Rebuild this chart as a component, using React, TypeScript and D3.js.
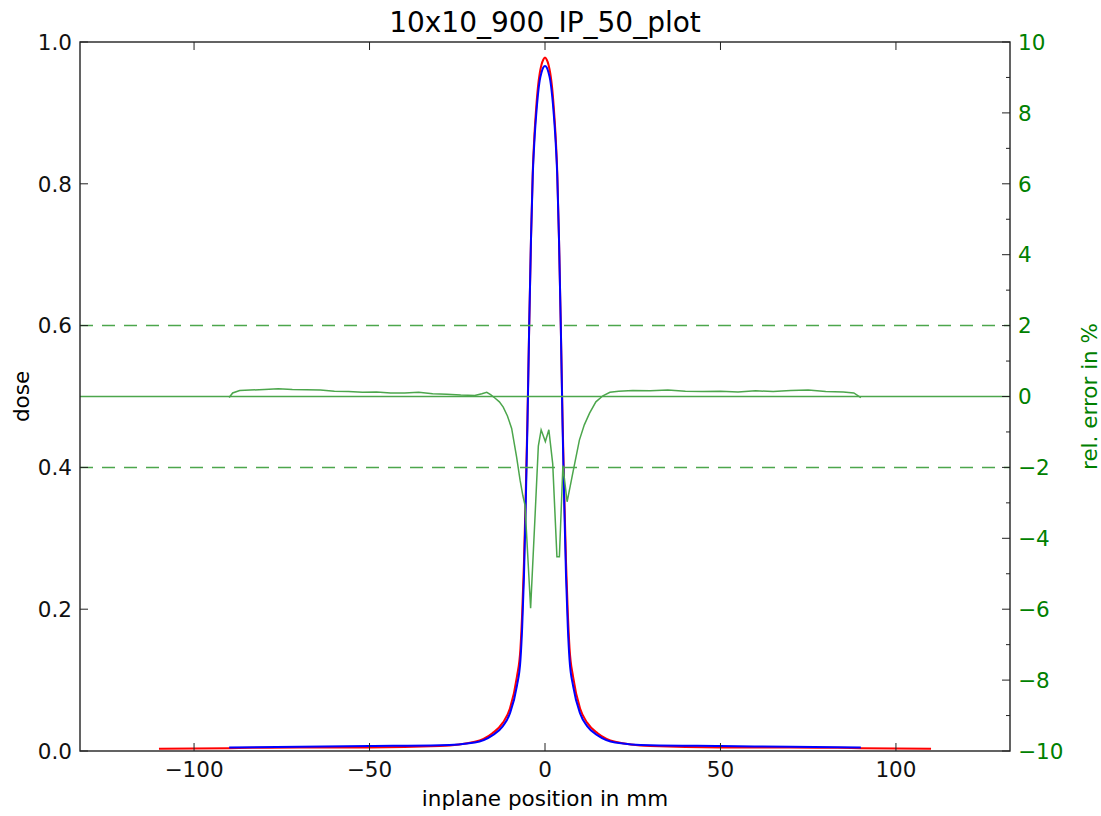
import React from "react";
import * as d3 from "d3";

// ---- data ----
const redX = [-110, -90, -70, -50, -30, -20, -15, -12, -10, -8, -7, -6.5, -6, -5.5, -5, -4.5, -4, -3.5, -3, -2.5, -2, -1.5, -1, -0.5, 0, 0.5, 1, 1.5, 2, 2.5, 3, 3.5, 4, 4.5, 5, 5.5, 6, 6.5, 7, 8, 10, 12, 15, 20, 30, 50, 70, 90, 110];
const redDose = [0.003, 0.004, 0.005, 0.005, 0.007, 0.013, 0.025, 0.04, 0.06, 0.105, 0.145, 0.195, 0.265, 0.36, 0.47, 0.6, 0.72, 0.815, 0.87, 0.908, 0.937, 0.956, 0.968, 0.975, 0.978, 0.975, 0.968, 0.956, 0.937, 0.908, 0.87, 0.815, 0.72, 0.6, 0.47, 0.36, 0.265, 0.195, 0.145, 0.105, 0.06, 0.04, 0.025, 0.013, 0.007, 0.005, 0.005, 0.004, 0.003];

const blueX = [-90, -70, -50, -30, -20, -15, -12, -10, -8, -7, -6.5, -6, -5.5, -5, -4.5, -4, -3.5, -3, -2.5, -2, -1.5, -1, -0.5, 0, 0.5, 1, 1.5, 2, 2.5, 3, 3.5, 4, 4.5, 5, 5.5, 6, 6.5, 7, 8, 10, 12, 15, 20, 30, 50, 70, 90];
const blueDose = [0.005, 0.006, 0.007, 0.008, 0.012, 0.022, 0.035, 0.053, 0.092, 0.128, 0.175, 0.245, 0.345, 0.46, 0.6, 0.72, 0.81, 0.862, 0.898, 0.926, 0.946, 0.957, 0.964, 0.966, 0.964, 0.957, 0.946, 0.926, 0.898, 0.862, 0.81, 0.72, 0.6, 0.46, 0.345, 0.245, 0.175, 0.128, 0.092, 0.053, 0.035, 0.022, 0.012, 0.008, 0.007, 0.006, 0.005];

const errX = [-90, -89, -87, -84, -80, -76, -72, -68, -64, -60, -56, -52, -48, -44, -40, -36, -32, -28, -24, -20, -18, -16.6, -15.5, -14.2, -13, -11.9, -10.7, -9.5, -8.1, -7.1, -6.3, -5.7, -4.1, -2.8, -1.9, -1.1, 0.1, 1.1, 2.2, 3.4, 4.1, 5.1, 6.3, 7.9, 9.8, 11.2, 12.7, 14.5, 16.5, 18.5, 21, 25, 30, 35, 40, 45, 50, 55, 60, 65, 70, 75, 80, 85, 88, 90];
const errVal = [-0.03, 0.1, 0.17, 0.18, 0.2, 0.22, 0.2, 0.19, 0.18, 0.15, 0.14, 0.12, 0.13, 0.1, 0.1, 0.12, 0.08, 0.06, 0.04, 0.03, 0.08, 0.12, 0.05, -0.05, -0.15, -0.3, -0.55, -0.9, -1.7, -2.36, -2.8, -3.06, -5.97, -3.3, -1.4, -0.94, -1.27, -0.94, -1.9, -4.52, -4.52, -1.95, -2.97, -2.17, -1.23, -0.8, -0.47, -0.15, 0.02, 0.12, 0.15, 0.17, 0.16, 0.18, 0.15, 0.14, 0.15, 0.13, 0.16, 0.14, 0.17, 0.18, 0.14, 0.13, 0.1, -0.03];

const xTicks = [-100, -50, 0, 50, 100];
const yTicks = [0.0, 0.2, 0.4, 0.6, 0.8, 1.0];
const errTicks = [-10, -8, -6, -4, -2, 0, 2, 4, 6, 8, 10];
const errMinorTicks = [-9, -7, -5, -3, -1, 1, 3, 5, 7, 9];
const errRefLines = [-2, 2];

const W = 1101, H = 816;
const L = 80, R = 1010, T = 42, B = 751;
const FONT = "DejaVu Sans, sans-serif";
const GREEN = "#008000";
const LIGHTGREEN = "#4ca64c";

const fmtMinus = (s: string) => s.replace("-", "\u2212");

export default function App() {
  const x = d3.scaleLinear().domain([-132.5, 132.5]).range([L, R]);
  const y = d3.scaleLinear().domain([0, 1]).range([B, T]);
  const y2 = d3.scaleLinear().domain([-10, 10]).range([B, T]);

  const doseLine = d3
    .line<[number, number]>()
    .x((d) => x(d[0]))
    .y((d) => y(d[1]))
    .curve(d3.curveMonotoneX);
  const errLine = d3
    .line<[number, number]>()
    .x((d) => x(d[0]))
    .y((d) => y2(d[1]));

  const redPts = redX.map((v, i) => [v, redDose[i]] as [number, number]);
  const bluePts = blueX.map((v, i) => [v, blueDose[i]] as [number, number]);
  const errPts = errX.map((v, i) => [v, errVal[i]] as [number, number]);

  const fx = d3.format(".1f");

  return (
    <svg
      width={W}
      height={H}
      style={{ position: "absolute", left: 0, top: 0, background: "#fff" }}
      fontFamily={FONT}
    >
      <rect x={0} y={0} width={W} height={H} fill="#fff" />
      <defs>
        <clipPath id="plotclip">
          <rect x={L} y={T} width={R - L} height={B - T} />
        </clipPath>
      </defs>

      <g clipPath="url(#plotclip)">
        <path d={doseLine(redPts) || ""} fill="none" stroke="#ff0000" strokeWidth={2} />
        <path d={doseLine(bluePts) || ""} fill="none" stroke="#0000ff" strokeWidth={2} />
        <line x1={L} x2={R} y1={y2(0)} y2={y2(0)} stroke={LIGHTGREEN} strokeWidth={1.5} />
        {errRefLines.map((v) => (
          <line
            key={v}
            x1={L}
            x2={R}
            y1={y2(v)}
            y2={y2(v)}
            stroke={LIGHTGREEN}
            strokeWidth={1.5}
            strokeDasharray="13,9"
          />
        ))}
        <path d={errLine(errPts) || ""} fill="none" stroke={LIGHTGREEN} strokeWidth={1.5} />
      </g>

      {/* spines */}
      <rect x={L} y={T} width={R - L} height={B - T} fill="none" stroke="#222" strokeWidth={1.4} />

      {/* x ticks bottom and top */}
      {xTicks.map((t) => (
        <g key={t}>
          <line x1={x(t)} x2={x(t)} y1={B} y2={B - 8} stroke="#222" strokeWidth={1} />
          <line x1={x(t)} x2={x(t)} y1={T} y2={T + 8} stroke="#222" strokeWidth={1} />
          <text x={x(t)} y={777} textAnchor="middle" fontSize={21.5} fill="#111">
            {fmtMinus(String(t))}
          </text>
        </g>
      ))}

      {/* left y ticks */}
      {yTicks.map((t) => (
        <g key={t}>
          <line x1={L} x2={L + 8} y1={y(t)} y2={y(t)} stroke="#222" strokeWidth={1} />
          <text x={72} y={y(t)} dy="0.36em" textAnchor="end" fontSize={21.5} fill="#111">
            {fx(t)}
          </text>
        </g>
      ))}

      {/* right y ticks */}
      {errTicks.map((t) => (
        <g key={t}>
          <line x1={R} x2={R - 8} y1={y2(t)} y2={y2(t)} stroke="#222" strokeWidth={1} />
          <text x={1018} y={y2(t)} dy="0.36em" textAnchor="start" fontSize={21.5} fill={GREEN}>
            {fmtMinus(String(t))}
          </text>
        </g>
      ))}
      {errMinorTicks.map((t) => (
        <line key={t} x1={R} x2={R - 4} y1={y2(t)} y2={y2(t)} stroke="#222" strokeWidth={1} />
      ))}

      {/* labels */}
      <text x={(L + R) / 2} y={32} textAnchor="middle" fontSize={28}>
        10x10_900_IP_50_plot
      </text>
      <text x={(L + R) / 2} y={806} textAnchor="middle" fontSize={21.5}>
        inplane position in mm
      </text>
      <text transform={`translate(29, ${(T + B) / 2}) rotate(-90)`} textAnchor="middle" fontSize={21.5}>
        dose
      </text>
      <text
        transform={`translate(1097, ${(T + B) / 2}) rotate(-90)`}
        textAnchor="middle"
        fontSize={21.5}
        fill={GREEN}
      >
        rel. error in %
      </text>
    </svg>
  );
}
